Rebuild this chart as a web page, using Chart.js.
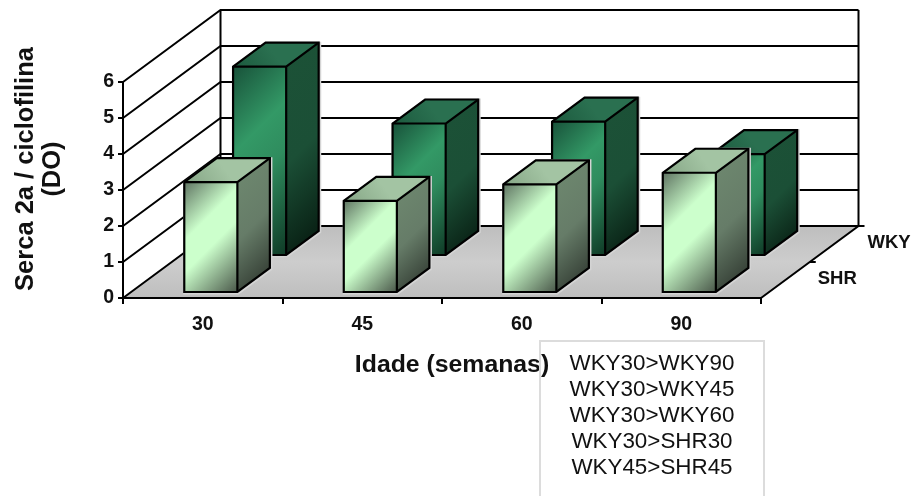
<!DOCTYPE html>
<html>
<head>
<meta charset="utf-8">
<title>Serca 2a</title>
<script src="https://cdn.jsdelivr.net/npm/chart.js@4/dist/chart.umd.min.js"></script>
<style>
    html, body { margin: 0; padding: 0; background: #fff; overflow: hidden; }
    #wrap { position: relative; width: 917px; height: 496px; overflow: hidden; }
    #chart { display: block; }
    #box {
        position: absolute; left: 539px; top: 340px; width: 222px; height: 170px;
        border: 2px solid #dcdcdc; padding-top: 8px; box-sizing: content-box;
        font: 22.4px/26px "Liberation Sans", Arial, sans-serif; color: #111; text-align: center;
    }
</style>
</head>
<body>
<div id="wrap">
    <canvas id="chart" width="917" height="496"></canvas>
    <div id="box"></div>
</div>
<script>
const ages = ["30", "45", "60", "90"];
const seriesNames = ["SHR", "WKY"];
const shrValues = [3.08, 2.56, 3.02, 3.34];
const wkyValues = [5.26, 3.68, 3.73, 2.83];
const yTicks = [0, 1, 2, 3, 4, 5, 6];
const yTitle = ["Serca 2a / ciclofilina", "(DO)"];
const xTitle = "Idade (semanas)";
const notes = ["WKY30>WKY90", "WKY30>WKY45", "WKY30>WKY60", "WKY30>SHR30", "WKY45>SHR45"];

document.getElementById("box").innerHTML = notes
    .map(n => n.replace(">", "&gt;"))
    .join("<br>");

/*
=====================================
3D LOOK
=====================================
*/

const DEPTH_X = 97.5;
const DEPTH_Y = 72;
const FONT = '"Liberation Sans", Arial, sans-serif';

const styles = [
    {
        front: ["#5f7462", "#ccffcc", "#ccffcc", "#4a584a"],
        top: ["#86a686", "#a3c4a3"],
        side: ["#6f8a70", "#667c68", "#2e362e"],
        slot: [5, 29],
        nudge: 1.3
    },
    {
        front: ["#18523a", "#339966", "#2f8c5e", "#0f3a26"],
        top: ["#1c5a3e", "#2a7050"],
        side: ["#1c5237", "#1b4f36", "#071c11"],
        slot: [42, 66],
        nudge: 0
    }
];

function diagonal(ctx, x, y, w, h, colors) {
    const len = (w + h) / 2;
    const grad = ctx.createLinearGradient(x, y, x + len, y + len);
    const stops = colors.length === 4 ? [0, 0.36, 0.56, 1] : [0, 0.5, 0.95];
    colors.forEach((c, i) => grad.addColorStop(stops[i], c));
    return grad;
}

function poly(ctx, points) {
    ctx.beginPath();
    points.forEach((p, i) => i ? ctx.lineTo(p[0], p[1]) : ctx.moveTo(p[0], p[1]));
    ctx.closePath();
}

function drawBox(ctx, bar, style) {
    const d0 = style.slot[0] / DEPTH_Y;
    const d1 = style.slot[1] / DEPTH_Y;
    const left = bar.x - bar.width / 2 + DEPTH_X * d0 + style.nudge;
    const right = left + bar.width;
    const top = bar.y - DEPTH_Y * d0;
    const base = bar.base - DEPTH_Y * d0;
    const ox = DEPTH_X * (d1 - d0);
    const oy = DEPTH_Y * (d1 - d0);

    const outline = [
        [left, top], [left + ox, top - oy], [right + ox, top - oy],
        [right + ox, base - oy], [right, base], [left, base]
    ];

    // pale rim around the block
    ctx.lineJoin = "miter";
    poly(ctx, outline.map(p => [p[0] + 0.8, p[1] + 0.8]));
    ctx.strokeStyle = "#d4d4d4";
    ctx.lineWidth = 3.5;
    ctx.stroke();

    poly(ctx, [[right, top], [right + ox, top - oy], [right + ox, base - oy], [right, base]]);
    ctx.fillStyle = diagonal(ctx, right, top - oy, ox, base - top + oy, style.side);
    ctx.fill();

    poly(ctx, [[left, top], [left + ox, top - oy], [right + ox, top - oy], [right, top]]);
    const topGrad = ctx.createLinearGradient(left, top, left + ox, top - oy);
    topGrad.addColorStop(0, style.top[0]);
    topGrad.addColorStop(1, style.top[1]);
    ctx.fillStyle = topGrad;
    ctx.fill();

    ctx.fillStyle = diagonal(ctx, left, top, bar.width, base - top, style.front);
    ctx.fillRect(left, top, bar.width, base - top);

    ctx.strokeStyle = "#000";
    ctx.lineWidth = 2.2;
    poly(ctx, outline);
    ctx.stroke();
    ctx.beginPath();
    ctx.moveTo(left, top);
    ctx.lineTo(right, top);
    ctx.lineTo(right, base);
    ctx.moveTo(right, top);
    ctx.lineTo(right + ox, top - oy);
    ctx.stroke();
}

/*
=====================================
WALLS, FLOOR AND BLOCKS
=====================================
*/

const roomPlugin = {
    id: "room",

    beforeDraw(chart) {
        const { ctx, chartArea: area, scales } = chart;
        const y0 = area.bottom;

        ctx.save();

        const floor = ctx.createLinearGradient(0, y0 - DEPTH_Y, 0, y0);
        floor.addColorStop(0, "#bebebe");
        floor.addColorStop(0.5, "#cdcdcd");
        floor.addColorStop(1, "#bebebe");
        poly(ctx, [
            [area.left, y0], [area.right, y0],
            [area.right + DEPTH_X, y0 - DEPTH_Y], [area.left + DEPTH_X, y0 - DEPTH_Y]
        ]);
        ctx.fillStyle = floor;
        ctx.fill();

        ctx.strokeStyle = "#000";
        ctx.lineWidth = 2;

        yTicks.forEach(v => {
            const py = scales.y.getPixelForValue(v);
            ctx.beginPath();
            ctx.moveTo(area.left, py);
            ctx.lineTo(area.left + DEPTH_X, py - DEPTH_Y);
            ctx.lineTo(area.right + DEPTH_X, py - DEPTH_Y);
            ctx.stroke();
        });

        ctx.beginPath();
        ctx.moveTo(area.left + DEPTH_X, area.top - DEPTH_Y);
        ctx.lineTo(area.left + DEPTH_X, y0 - DEPTH_Y);
        ctx.moveTo(area.right + DEPTH_X, area.top - DEPTH_Y);
        ctx.lineTo(area.right + DEPTH_X, y0 - DEPTH_Y);
        ctx.lineTo(area.right, y0);
        ctx.moveTo(area.right + DEPTH_X, y0 - DEPTH_Y);
        ctx.lineTo(area.right + DEPTH_X + 6, y0 - DEPTH_Y);
        ctx.moveTo(area.right + DEPTH_X / 2, y0 - DEPTH_Y / 2);
        ctx.lineTo(area.right + DEPTH_X / 2 + 6, y0 - DEPTH_Y / 2);
        ctx.stroke();

        ctx.restore();
    },

    afterDatasetsDraw(chart) {
        const { ctx, chartArea: area } = chart;

        ctx.save();

        // back row first so the front row covers it
        [1, 0].forEach(index => {
            chart.getDatasetMeta(index).data.forEach(bar => {
                drawBox(ctx, bar, styles[index]);
            });
        });

        ctx.fillStyle = "#111";
        ctx.textAlign = "left";
        ctx.textBaseline = "middle";
        ctx.font = "bold 18.5px " + FONT;
        ctx.fillText(seriesNames[1], area.right + DEPTH_X + 9, area.bottom - 55);
        ctx.fillText(seriesNames[0], area.right + DEPTH_X / 2 + 8, area.bottom - 19);

        ctx.textAlign = "center";
        ctx.font = "bold 24.8px " + FONT;
        ctx.fillText(xTitle, 452, 365);

        ctx.font = "bold 25.5px " + FONT;
        ctx.translate(0, 169);
        ctx.rotate(-Math.PI / 2);
        ctx.fillText(yTitle[0], 0, 26);
        ctx.fillText(yTitle[1], 0, 53);

        ctx.restore();
    }
};

/*
=====================================
CHART
=====================================
*/

new Chart(document.getElementById("chart"), {
    type: "bar",
    data: {
        labels: ages,
        datasets: [
            { label: seriesNames[0], data: shrValues, backgroundColor: "transparent" },
            { label: seriesNames[1], data: wkyValues, backgroundColor: "transparent" }
        ]
    },
    options: {
        responsive: false,
        animation: false,
        layout: {
            padding: { top: 82, right: 156, left: 0, bottom: 0 }
        },
        datasets: {
            bar: {
                grouped: false,
                categoryPercentage: 1,
                barPercentage: 0.333
            }
        },
        plugins: {
            legend: { display: false },
            title: { display: false },
            tooltip: { enabled: false }
        },
        scales: {
            x: {
                afterFit: scale => { scale.height = 198; },
                border: { color: "#000", width: 2 },
                grid: { drawOnChartArea: false, color: "#000", tickLength: 6, lineWidth: 2 },
                ticks: {
                    color: "#111",
                    padding: 9,
                    maxRotation: 0,
                    font: { family: FONT, size: 19.5, weight: "bold" }
                }
            },
            y: {
                min: 0,
                max: 6,
                afterFit: scale => { scale.width = 123; },
                afterBuildTicks: scale => { scale.ticks = yTicks.map(value => ({ value })); },
                border: { color: "#000", width: 2 },
                grid: { drawOnChartArea: false, color: "#000", tickLength: 5, lineWidth: 2 },
                ticks: {
                    color: "#111",
                    padding: 4,
                    font: { family: FONT, size: 19.5, weight: "bold" }
                }
            }
        }
    },
    plugins: [roomPlugin]
});
</script>
</body>
</html>
